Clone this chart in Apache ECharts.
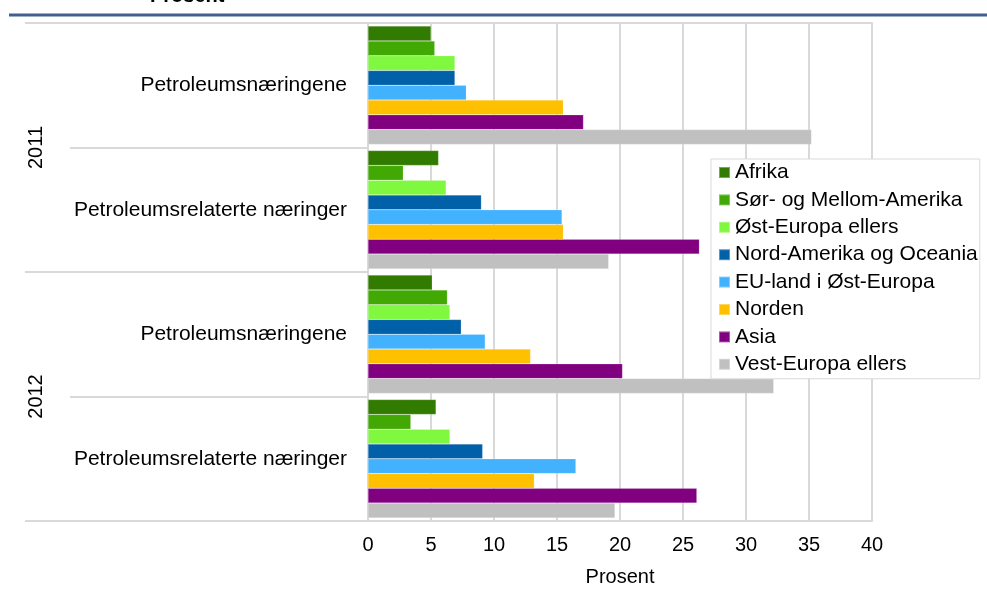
<!DOCTYPE html>
<html>
<head>
<meta charset="utf-8">
<script src="https://cdn.jsdelivr.net/npm/echarts@6/dist/echarts.min.js"></script>
<style>
    html, body { margin: 0; padding: 0; background: #fff; }
    #chart { width: 987px; height: 592px; }
</style>
</head>
<body>
<div id="chart"></div>
<script>
const categories = ['Petroleumsnæringene', 'Petroleumsrelaterte næringer', 'Petroleumsnæringene', 'Petroleumsrelaterte næringer']
const years = ['2011', '2012']
const seriesNames = ['Afrika', 'Sør- og Mellom-Amerika', 'Øst-Europa ellers', 'Nord-Amerika og Oceania',
    'EU-land i Øst-Europa', 'Norden', 'Asia', 'Vest-Europa ellers']
const colors = ['#317B00', '#42A804', '#80F840', '#0060A8', '#42B2FF', '#FFC000', '#800080', '#C0C0C0']

// verdier per region, i rekkefølge: 2011 petr., 2011 rel., 2012 petr., 2012 rel.
const afrika = [5.0, 5.6, 5.1, 5.4]
const sorMellomAmerika = [5.3, 2.8, 6.3, 3.4]
const ostEuropaEllers = [6.9, 6.2, 6.5, 6.5]
const nordAmerikaOceania = [6.9, 9.0, 7.4, 9.1]
const euOstEuropa = [7.8, 15.4, 9.3, 16.5]
const norden = [15.5, 15.5, 12.9, 13.2]
const asia = [17.1, 26.3, 20.2, 26.1]
const vestEuropaEllers = [35.2, 19.1, 32.2, 19.6]

const xTicks = { min: 0, max: 40, interval: 5 }

const values = [afrika, sorMellomAmerika, ostEuropaEllers, nordAmerikaOceania,
    euOstEuropa, norden, asia, vestEuropaEllers]

const font = '"Liberation Sans", Arial, sans-serif'
const gridColor = '#d9d9d9'

const chart = echarts.init(document.getElementById('chart'))

chart.setOption({
    animation: false,
    color: colors,
    title: {
        text: 'Prosent',
        left: 150,
        top: -14,
        padding: 0,
        textStyle: { fontFamily: font, fontSize: 20, fontWeight: 'bold', color: '#000' }
    },
    graphic: [{
        type: 'line',
        shape: { x1: 9, y1: 15, x2: 987, y2: 15 },
        style: { stroke: '#41608F', lineWidth: 3 }
    }],
    legend: {
        orient: 'vertical',
        left: 711,
        top: 159,
        padding: [3, 2, 4, 7],
        itemWidth: 11,
        itemHeight: 11,
        itemGap: 6.4,
        icon: 'rect',
        backgroundColor: '#fff',
        borderColor: gridColor,
        borderWidth: 1,
        textStyle: { fontFamily: font, fontSize: 21, lineHeight: 21, color: '#000' },
        data: seriesNames
    },
    grid: {
        left: 368,
        right: 115,
        top: 23,
        bottom: 70,
        containLabel: false
    },
    xAxis: [{
        type: 'value',
        min: xTicks.min,
        max: xTicks.max,
        interval: xTicks.interval,
        name: 'Prosent',
        nameLocation: 'middle',
        nameGap: 46,
        nameTextStyle: { fontFamily: font, fontSize: 20, color: '#000' },
        axisLine: { show: true, lineStyle: { color: gridColor, width: 2 } },
        axisTick: { show: false },
        axisLabel: { fontFamily: font, fontSize: 20, color: '#000', margin: 14 },
        splitLine: { show: true, lineStyle: { color: gridColor, width: 2 } }
    }, {
        type: 'value',
        position: 'top',
        min: xTicks.min,
        max: xTicks.max,
        interval: xTicks.interval,
        axisLine: { show: true, lineStyle: { color: gridColor, width: 2 } },
        axisTick: { show: false },
        axisLabel: { show: false },
        splitLine: { show: false }
    }],
    yAxis: [{
        type: 'category',
        inverse: true,
        data: categories,
        axisLine: { show: true, lineStyle: { color: gridColor, width: 2 } },
        axisTick: { show: true, length: 298, lineStyle: { color: gridColor, width: 2 } },
        axisLabel: { fontFamily: font, fontSize: 21, color: '#000', margin: 21 }
    }, {
        type: 'category',
        position: 'left',
        inverse: true,
        data: years,
        axisLine: { show: false },
        axisTick: { show: true, length: 343, lineStyle: { color: gridColor, width: 2 } },
        axisLabel: { fontFamily: font, fontSize: 20, color: '#000', rotate: 90, margin: 322 }
    }],
    series: seriesNames.map((name, i) => ({
        name,
        type: 'bar',
        yAxisIndex: 0,
        barGap: '0%',
        barCategoryGap: '5%',
        itemStyle: { color: colors[i], borderColor: 'rgba(255,255,255,0.35)', borderWidth: 0.5 },
        data: values[i]
    }))
})
</script>
</body>
</html>
